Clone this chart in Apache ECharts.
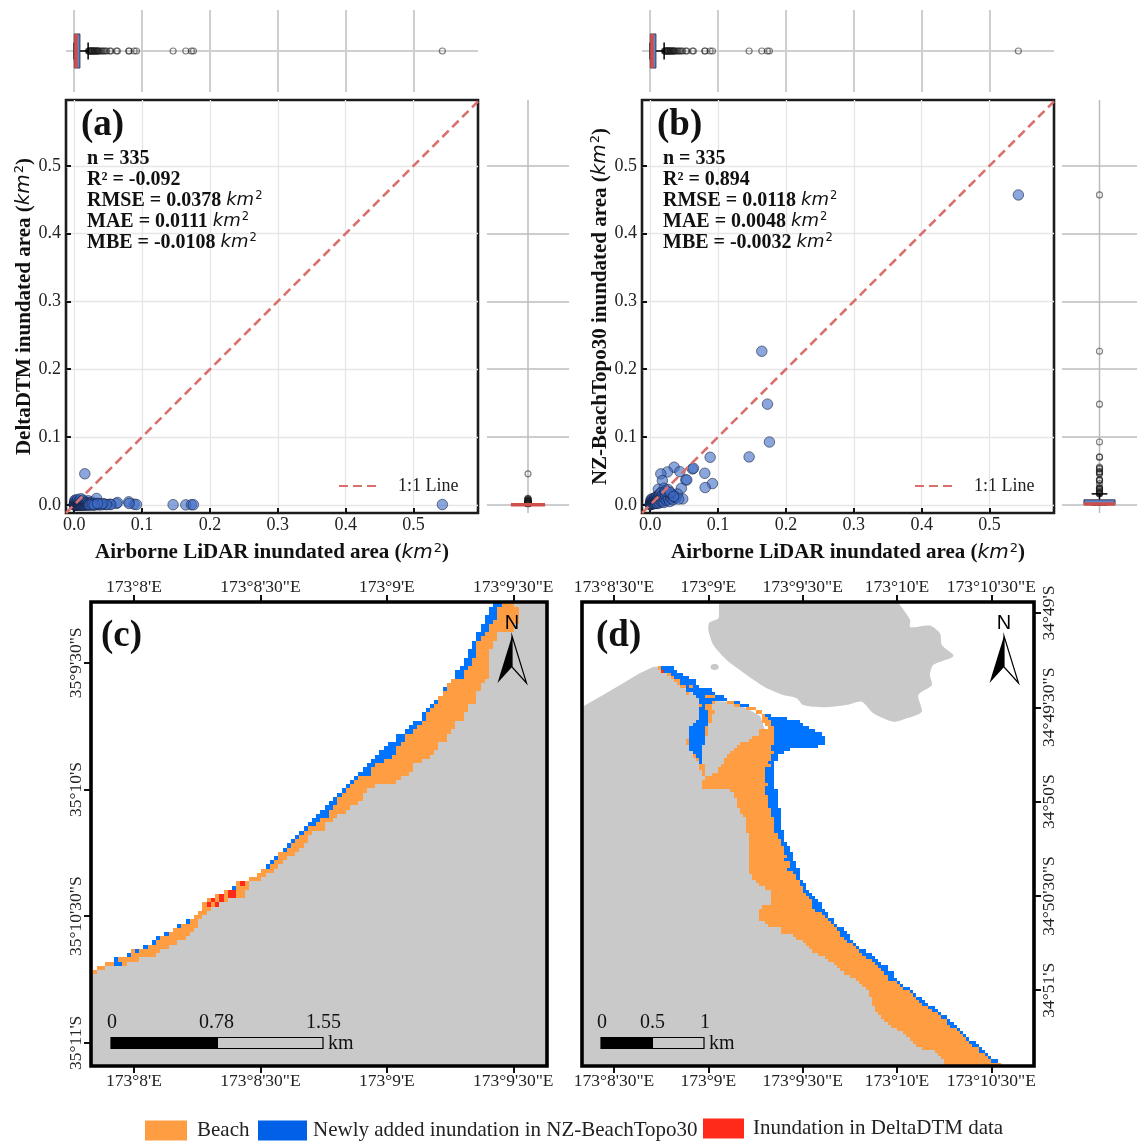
<!DOCTYPE html>
<html><head><meta charset="utf-8">
<style>html,body{margin:0;padding:0;background:#fff}#c{width:1137px;height:1142px}</style>
<script src="https://cdn.jsdelivr.net/npm/echarts@6/dist/echarts.min.js"></script>
</head><body><div id="c"></div>
<script>
// ---------- scatter data: inundated area, km2 ----------
const lidarArea = [
 .5425,.1645,.1728,.1757,.1458,.0884,.0805,.0918,.081,.0353,.0255,.0157,.0437,.0623,.0638,.018,.0525,.054,.046,.048,.012,.0206,
 .0002,.0003,.0005,.0006,.0008,.001,.001,.0012,.0015,.0015,
 .002,.002,.0025,.003,.003,.0035,.004,.004,.0045,.005,
 .005,.0055,.006,.006,.0065,.007,.007,.0075,.008,.008,
 .0085,.009,.009,.0095,.01,.01,.0105,.011,.011,.0115,
 .012,.0125,.013,.013,.0135,.014,.0145,.015,.0155,.016,
 .0165,.017,.0175,.018,.0185,.019,.02,.0205,.021,.022,
 .023,.024,.025,.026,.027,.028,.029,.03,.031,.032,
 .033,.034,.036,.038,.04,.042,.0225,.0265,.0295,.0345];
const deltaArea = [
 .0005,0,.0003,.0002,.0003,.001,.0045,.0005,.002,.0015,.0035,.0458,.001,.002,.0035,.002,.001,.0005,.0008,.0003,.004,.006,
 0,.001,0,.003,0,0,.006,.001,0,.007,
 0,.004,0,.001,0,.005,0,.002,0,.008,
 0,.001,0,.004,0,.002,0,.006,0,.001,
 0,.003,0,.001,0,.009,0,.002,0,.005,
 0,.002,0,.007,0,.001,0,.003,0,.004,
 0,.002,0,.001,0,.003,0,.001,0,.002,
 0,.001,0,.004,0,.001,0,.002,0,.001,
 .0095,.002,0,.001,0,.002,0,.001,0,.002];
const beachTopoArea = [
 .457,.2265,.1485,.0927,.0707,.0702,.0466,.0314,.0255,.0555,.0486,.0457,.049,.053,.054,.0358,.0368,.0368,.0245,.0088,.023,.0245,
 .0002,.001,.0015,.0005,.003,.001,.004,.006,.002,.008,
 .001,.005,.003,.002,.009,.004,.0015,.007,.0035,.003,
 .0065,.005,.002,.008,.004,.003,.0105,.006,.002,.0085,
 .005,.003,.011,.007,.004,.0125,.008,.002,.0095,.006,
 .0105,.005,.014,.008,.003,.012,.0165,.0065,.011,.018,
 .009,.013,.0045,.011,.0155,.007,.012,.0035,.0165,.009,
 .014,.0065,.0195,.011,.008,.0175,.005,.013,.0095,.015,
 .0155,.0075,.012,.0105,.016,.0085,.0205,.0225,.0185,.0125];
// box statistics [low whisker, q1, median, q3, high whisker]
const lidarBox = [0,.0002,.0028,.0085,.0206];
const deltaBox = [0,0,0,.0004,.001];
const beachBox = [0,.0004,.0012,.0074,.0162];
const areaTicks = [0,.1,.2,.3,.4,.5];

// ---------- panel (c) raster: columns = arc-seconds east of 173°8', rows = arc-seconds south ----------
const cLonTicks=[0,30,60,90], cLonLabels=["173°8'E","173°8'30\"E","173°9'E","173°9'30\"E"];
const cLatTicks=[0,30,60,90], cLatLabels=["35°9'30\"S","35°10'S","35°10'30\"S","35°11'S"];
// one row per arc-second from the top: [first inundated col, first beach col, first land col]
const cRows=[[85,87,90],[84,86,91],[84,86,91],[83,86,91],[83,85,91],[82,84,90],[82,84,90],[81,83,86],[81,82,86],[80,81,85],
[80,81,85],[79,81,84],[79,81,84],[78,80,84],[78,80,84],[77,79,84],[76,78,84],[76,78,84],[75,75,83],[74,74,82],
[73,74,82],[73,73,81],[72,72,81],[71,72,81],[70,71,79],[69,70,79],[68,69,78],[68,69,78],[66,68,76],[65,67,76],
[64,66,75],[62,64,74],[62,64,74],[60,63,72],[59,62,72],[58,62,71],[57,61,70],[56,59,68],[55,57,66],[54,56,66],
[53,56,65],[52,53,63],[51,52,62],[50,51,57],[49,50,55],[48,49,54],[47,48,54],[46,48,53],[45,47,51],[44,46,50],
[43,46,48],[42,44,47],[41,43,45],[40,41,45],[39,40,42],[38,39,41],[37,38,41],[36,37,40],[35,36,39],[34,34,38],
[33,34,36],[32,33,35],[31,32,34],[30,30,33],[29,29,31],[27,27,30],[24,24,27],[23,24,27],[21,21,26],[19,19,26],
[17,17,22],[16,16,20],[16,16,18],[15,15,17],[14,14,16],[12,13,15],[10,11,15],[9,9,14],[7,8,13],[5,6,12],
[4,5,10],[2,3,8],[-1,-1,6],[-2,-1,5],[-5,-4,1],[-7,-7,-2],[-9,-9,-7],[-10,-10,-9]];
const cExtraBlue=[[82,0,1],[85,-5,-3]];            // [row, col0, col1]
const cRed=[[66,25,26],[68,22,24],[69,22,24],[69,20,21],[70,18,19],[70,20,21],[71,17,18],[71,19,20]];
const cLandBelow=[[-10.2,73.5],[98,73.5],[98,95.5],[-10.2,95.5]];

// ---------- panel (d): columns = arc-seconds east of 173°8'30", rows = arc-seconds south of 34°49' ----------
const dLonTicks=[0,30,60,90,120], dLonLabels=["173°8'30\"E","173°9'E","173°9'30\"E","173°10'E","173°10'30\"E"];
const dLatTicks=[0,30,60,90,120], dLatLabels=["34°49'S","34°49'30\"S","34°50'S","34°50'30\"S","34°51'S"];
const dIsland=[[34,-3.5],[33.2,1.7],[30.3,3.1],[30,5.4],[31.6,10.2],[35.9,15],[42.2,19.7],[48,23.6],[53.9,26.1],[58.1,27.1],[60.2,29.3],[66.6,30],[74,29.3],[78.8,28.2],[82.5,31.9],[88.9,34.6],[93.1,33.5],[97.9,31.4],[96.8,26.1],[101.1,22.9],[100.5,19.7],[101.6,16.5],[108,13.7],[104.3,10.2],[103.7,6.5],[100.5,4],[94.2,4.5],[94.2,2.2],[91,-2.5],[89.9,-3.5]];
const dIslet=[[31.2,16.4],[32.8,16.4],[33.3,17.2],[32.8,18],[31.2,18],[30.7,17.2]];
const dLand=[[-10.2,29.9],[-3.5,26.1],[1.9,22.9],[8.3,19.1],[12.4,17.2],[14.6,16.9],[16.8,19.2],[22,23.4],[26.8,26.6],[31.5,28],[38.5,28.3],[46.5,32.8],[48,37.2],[43,53.5],[-10.2,53.5]];
// upper rows: [row from 17" south, col0, col1]
const dUpperBlue=[[0,15,19],[1,15,20],[2,18,22],[3,19,24],[4,21,26],[5,21,26],[6,23,24],[6,25,27],[7,23,31],[8,25,32],[9,26,29],[9,32,35],[10,27,36],[11,27,31],[11,38,40],[12,28,29],[12,40,43],[13,27,29],[14,27,30],[15,27,30],[15,48,50],[16,27,30],[16,49,55],[17,26,30],[17,50,59],[18,25,30],[18,50,60],[19,24,29],[19,51,62],[20,24,29],[20,51,64],[21,24,29],[21,51,66],[22,24,29],[22,51,67],[23,24,29],[23,51,67],[24,24,29],[24,51,67],[25,24,28],[25,50,65],[26,24,28],[26,50,56],[27,25,28],[27,51,54],[28,26,28],[28,50,52],[29,27,28],[29,50,52],[30,27,28],[30,49,51],[31,50,51],[32,48,51],[33,48,51],[34,48,51],[35,48,51]];
const dUpperBeach=[[0,14,15],[2,17,18],[3,18,19],[4,19,21],[5,20,21],[6,21,23],[6,24,25],[8,23,24],[9,29,32],[11,31,32],[11,36,38],[12,27,28],[12,29,31],[12,38,40],[13,29,31],[13,42,45],[14,30,32],[14,45,47],[15,30,31],[15,47,48],[16,30,31],[16,47,49],[17,30,31],[17,47,50],[18,48,50],[19,29,30],[19,49,51],[20,29,30],[20,46,51],[21,29,30],[21,46,51],[22,44,51],[23,23,24],[23,43,51],[24,23,24],[24,40,51],[25,39,50],[26,38,50],[27,37,51],[28,25,26],[28,36,50],[29,26,27],[29,35,50],[30,35,49],[31,27,29],[31,34,50],[32,27,29],[32,33,48],[33,28,29],[33,33,48],[34,28,29],[34,31,48],[35,29,48]];
const dRed=[[1,15,16]];
// lower rows, first row 36: [first beach col, first inundated col, last col]
const dLowerRows=[[28,48,51],[28,49,51],[28,48,51],[37,48,52],[38,48,52],[38,49,52],[39,49,52],[39,49,52],[39,49,52],[40,50,53],
[40,50,53],[41,50,53],[42,51,53],[42,51,53],[42,51,53],[42,51,53],[42,51,54],[43,52,54],[43,52,54],[43,53,54],
[43,53,55],[43,54,56],[43,54,56],[43,54,57],[43,55,57],[43,54,57],[43,56,58],[43,56,58],[43,55,59],[43,57,59],
[44,58,59],[44,58,59],[45,59,60],[46,59,61],[48,60,61],[50,60,62],[50,61,63],[50,62,64],[50,63,65],[50,63,66],
[47,63,66],[46,64,67],[46,66,68],[46,67,68],[46,68,70],[48,69,70],[49,70,71],[53,71,73],[53,72,74],[57,72,75],
[58,73,75],[60,74,76],[61,76,77],[62,77,78],[63,78,80],[65,79,82],[67,80,83],[68,82,84],[70,83,85],[71,84,87],
[72,85,87],[73,86,89],[75,87,89],[77,87,90],[78,90,91],[79,91,92],[80,92,94],[81,94,95],[81,95,96],[82,96,98],
[82,97,99],[82,98,100],[83,100,102],[83,101,103],[84,103,104],[85,104,106],[86,106,107],[87,106,108],[88,107,109],[90,109,110],
[92,110,111],[93,111,112],[94,112,113],[95,113,115],[96,114,116],[98,116,117],[102,116,118],[103,118,119],[104,119,120],[105,120,122],[105,123,123]];

const names={beach:'Beach',blue:'Newly added inundation in NZ-BeachTopo30',red:'Inundation in DeltaDTM data'};
const colors={beach:'#FF9D42',blue:'#0073FF',red:'#FF2A1A',land:'#C9C9C9'};

// ---------- build cell rectangles [x0,y0,x1,y1] in axis units ----------
const CX=0.24, CY=-14.24, CR=98;
function cCells(){
  const out={land:[],beach:[],blue:[],red:[]};
  cRows.forEach((r,i)=>{const y=CY+i;
    out.land.push([r[2]+CX,y,CR,y+1]);
    if(r[1]<r[2])out.beach.push([r[1]+CX,y,r[2]+CX,y+1]);
    if(r[0]<r[1])out.blue.push([r[0]+CX,y,r[1]+CX,y+1]);});
  cExtraBlue.forEach(e=>out.blue.push([e[1]+CX,CY+e[0],e[2]+CX,CY+e[0]+1]));
  cRed.forEach(e=>out.red.push([e[1]+CX,CY+e[0],e[2]+CX,CY+e[0]+1]));
  return out;
}
const DY=17, DL=-10.2;
function dCells(){
  const out={land:[],beach:[],blue:[],red:[]};
  const m=e=>[e[1],DY+e[0],e[2],DY+e[0]+1];
  dUpperBlue.forEach(e=>out.blue.push(m(e)));
  dUpperBeach.forEach(e=>out.beach.push(m(e)));
  dRed.forEach(e=>out.red.push(m(e)));
  dLowerRows.forEach((r,i)=>{const y=DY+36+i;
    out.land.push([DL,y,r[0],y+1]);
    out.beach.push([r[0],y,r[1],y+1]);
    if(r[1]<r[2])out.blue.push([r[1],y,r[2],y+1]);});
  return out;
}
function renderCell(p,api){
  const a=api.coord([api.value(0),api.value(1)]), b=api.coord([api.value(2),api.value(3)]);
  const x0=Math.round(Math.min(a[0],b[0])),x1=Math.round(Math.max(a[0],b[0]));
  const y0=Math.round(Math.min(a[1],b[1])),y1=Math.round(Math.max(a[1],b[1]));
  return {type:'rect',shape:{x:x0,y:y0,width:x1-x0,height:y1-y0},style:{fill:api.visual('color')}};
}
function cellSeries(name,color,data,x,y,z){
  return {type:'custom',name,coordinateSystem:'cartesian2d',xAxisIndex:x,yAxisIndex:y,data,renderItem:renderCell,clip:true,silent:true,
    encode:{x:[0,2],y:[1,3]},itemStyle:{color},z};
}
function polySeries(polys,x,y,smooth){
  return {type:'custom',name:'Land',coordinateSystem:'cartesian2d',xAxisIndex:x,yAxisIndex:y,clip:true,silent:true,z:1,
    data:polys.map((p,i)=>[p[0][0],p[0][1],i]),encode:{x:0,y:1},itemStyle:{color:colors.land},
    renderItem:(prm,api)=>({type:'polygon',shape:{points:polys[prm.dataIndex].map(v=>api.coord(v)),smooth:smooth&&smooth[prm.dataIndex]||0},style:{fill:colors.land}})};
}
// ---------- marginal box: horizontal when hor is true ----------
function boxSeries(stats,vals,hor,x,y){
  const P=(v,c)=>hor?[v,c]:[c,v];
  return [{type:'custom',name:'box',coordinateSystem:'cartesian2d',xAxisIndex:x,yAxisIndex:y,silent:true,z:4,
    data:[stats],encode:hor?{x:[0,1,2,3,4]}:{y:[0,1,2,3,4]},
    renderItem:(prm,api)=>{
      const v=[0,1,2,3,4].map(i=>api.value(i));
      const pt=(a,c)=>api.coord(P(a,c));
      const line=(a,b,w,col)=>({type:'line',shape:{x1:a[0],y1:a[1],x2:b[0],y2:b[1]},style:{stroke:col,lineWidth:w},z2:5});
      const B=0.415,C=0.21;
      const c1=pt(v[1],-B),c2=pt(v[3],B);
      return {type:'group',children:[
        line(pt(v[0],0),pt(v[1],0),1.5,'#000'),line(pt(v[3],0),pt(v[4],0),1.5,'#000'),
        line(pt(v[0],-C),pt(v[0],C),1.5,'#000'),line(pt(v[4],-C),pt(v[4],C),1.5,'#000'),
        {type:'rect',shape:{x:Math.min(c1[0],c2[0]),y:Math.min(c1[1],c2[1]),width:Math.abs(c2[0]-c1[0]),height:Math.abs(c2[1]-c1[1])},
          style:{fill:'#5F86D3',stroke:'#3a3a4a',lineWidth:1},z2:6},
        Object.assign(line(pt(v[2],-B),pt(v[2],B),3.5,'#CE4F4B'),{z2:7})]};
    }},
   {type:'scatter',name:'outliers',xAxisIndex:x,yAxisIndex:y,silent:true,symbolSize:6,z:3,
    data:vals.filter(v=>v>stats[4]).map(v=>P(v,0)),
    itemStyle:{color:'rgba(255,255,255,0)',borderColor:'rgba(30,30,30,0.7)',borderWidth:1.2}}];
}
const SERIF="'Liberation Serif','Times New Roman',serif";
const MATH="'DejaVu Sans',sans-serif";
const titleRich={
  b:{fontFamily:SERIF,fontWeight:'bold',fontSize:21,color:'#111'},
  i:{fontFamily:MATH,fontStyle:'italic',fontWeight:'normal',fontSize:20,color:'#111'},
  s:{fontFamily:MATH,fontWeight:'normal',fontSize:13,color:'#111',verticalAlign:'top',padding:[0,0,8,1]}};
const axName=t=>`{b|${t} (}{i|km}{s|2}{b|)}`;
const mainX={type:'value',min:-0.012,max:0.595,axisLabel:{customValues:areaTicks,fontFamily:SERIF,fontSize:18,color:'#222',margin:3,formatter:v=>v.toFixed(1)},
  axisTick:{customValues:areaTicks,inside:true,length:5,lineStyle:{color:'#111',width:2}},axisLine:{show:false,onZero:false},splitLine:{show:true,lineStyle:{color:'#E6E6E6',width:1.3}},
  nameLocation:'middle',nameGap:29,nameTextStyle:{rich:titleRich}};
const mainY={type:'value',min:-0.012,max:0.597,axisLabel:{customValues:areaTicks,fontFamily:SERIF,fontSize:18,color:'#222',margin:5,formatter:v=>v.toFixed(1)},
  axisTick:{customValues:areaTicks,inside:true,length:5,lineStyle:{color:'#111',width:2}},axisLine:{show:false,onZero:false},splitLine:{show:true,lineStyle:{color:'#E6E6E6',width:1.3}},
  nameLocation:'middle',nameTextStyle:{rich:titleRich}};
const topX={type:'value',min:-0.012,max:0.595,axisLabel:{show:false,customValues:areaTicks},axisTick:{show:false,customValues:areaTicks},axisLine:{show:false,onZero:false},splitLine:{show:true,lineStyle:{color:'#BDBDBD',width:1.5}}};
const crossHidden={type:'value',min:-1,max:1,show:false,splitLine:{show:false}};
const sideY={type:'value',min:-0.012,max:0.597,axisLabel:{show:false,customValues:areaTicks},axisTick:{show:false,customValues:areaTicks},axisLine:{show:false,onZero:false},splitLine:{show:true,lineStyle:{color:'#BDBDBD',width:1.5}}};

const grids=[
 {left:66,top:100,width:412,height:413},{left:66,top:10,width:412,height:82},{left:487,top:100,width:82,height:413},
 {left:642,top:100,width:412,height:413},{left:642,top:10,width:412,height:82},{left:1062,top:100,width:82,height:413},
 {left:91,top:602,width:456,height:464},{left:582,top:602,width:452,height:464}];
grids.forEach((g,i)=>{g.show=i===0||i===3;g.borderColor='#1c1c1c';g.borderWidth=2.6;});

const mapLabel={fontFamily:SERIF,fontSize:17.5,color:'#222',margin:6};
const mapTick={length:7,lineStyle:{color:'#111',width:2}};
function mapX(i,pos,min,max,ticks,labels){
  return {type:'value',gridIndex:i,position:pos,min,max,axisLine:{show:false,onZero:false},splitLine:{show:false},
    axisTick:Object.assign({customValues:ticks},mapTick),
    axisLabel:Object.assign({customValues:ticks,formatter:v=>labels[ticks.indexOf(v)]},mapLabel)};
}
function mapY(i,pos,min,max,ticks,labels){
  return {type:'value',gridIndex:i,position:pos,inverse:true,min,max,axisLine:{show:false,onZero:false},splitLine:{show:false},
    axisTick:Object.assign({customValues:ticks},mapTick),
    axisLabel:Object.assign({customValues:ticks,rotate:90,formatter:v=>labels[ticks.indexOf(v)]},mapLabel)};
}
const xAxis=[
 Object.assign({},mainX,{gridIndex:0,name:axName('Airborne LiDAR inundated area')}),
 Object.assign({},topX,{gridIndex:1}),
 Object.assign({},crossHidden,{gridIndex:2}),
 Object.assign({},mainX,{gridIndex:3,name:axName('Airborne LiDAR inundated area')}),
 Object.assign({},topX,{gridIndex:4}),
 Object.assign({},crossHidden,{gridIndex:5}),
 mapX(6,'top',-10.2,98,cLonTicks,cLonLabels), mapX(6,'bottom',-10.2,98,cLonTicks,cLonLabels),
 mapX(7,'top',-10.2,133.6,dLonTicks,dLonLabels), mapX(7,'bottom',-10.2,133.6,dLonTicks,dLonLabels)];
const yAxis=[
 Object.assign({},mainY,{gridIndex:0,name:axName('DeltaDTM inundated area'),nameGap:31}),
 Object.assign({},crossHidden,{gridIndex:1}),
 Object.assign({},sideY,{gridIndex:2}),
 Object.assign({},mainY,{gridIndex:3,name:axName('NZ-BeachTopo30 inundated area'),nameGap:31}),
 Object.assign({},crossHidden,{gridIndex:4}),
 Object.assign({},sideY,{gridIndex:5}),
 mapY(6,'left',-14.4,95.5,cLatTicks,cLatLabels),
 mapY(7,'right',-3.5,144.1,dLatTicks,dLatLabels)];

const pairs=(a,b)=>a.map((v,i)=>[v,b[i]]);
const scatterStyle={color:'rgba(60,107,198,0.75)',borderColor:'rgba(20,30,60,0.8)',borderWidth:0.9};
function panelSeries(x0,yVals,yBox){
  const s=[
   {type:'scatter',name:'points',xAxisIndex:x0,yAxisIndex:x0,data:pairs(lidarArea,yVals),symbolSize:10.5,itemStyle:scatterStyle,silent:true,z:3},
   {type:'line',name:'1:1 Line',xAxisIndex:x0,yAxisIndex:x0,data:[[-0.012,-0.012],[0.595,0.595]],symbol:'none',silent:true,z:4,
     lineStyle:{color:'#D9706B',width:2.6,type:[9,5]},itemStyle:{color:'#D9706B'}},
   {type:'line',name:'midline',xAxisIndex:x0+1,yAxisIndex:x0+1,data:[[-0.012,0],[0.595,0]],symbol:'none',silent:true,z:2,lineStyle:{color:'#CFCFCF',width:2}},
   {type:'line',name:'midline',xAxisIndex:x0+2,yAxisIndex:x0+2,data:[[0,-0.012],[0,0.597]],symbol:'none',silent:true,z:2,lineStyle:{color:'#BDBDBD',width:1.5}}];
  return s.concat(boxSeries(lidarBox,lidarArea,true,x0+1,x0+1),boxSeries(yBox,yVals,false,x0+2,x0+2));
}
const cc=cCells(), dc=dCells();
const series=[].concat(
 panelSeries(0,deltaArea,deltaBox),
 panelSeries(3,beachTopoArea,beachBox),
 [polySeries([cLandBelow],6,6),
  cellSeries('Land',colors.land,cc.land,6,6,1),
  cellSeries(names.beach,colors.beach,cc.beach,6,6,2),
  cellSeries(names.blue,colors.blue,cc.blue,6,6,3),
  cellSeries(names.red,colors.red,cc.red,6,6,4),
  polySeries([dIsland,dIslet,dLand],8,7,[0.25,0.4,0]),
  cellSeries('Land',colors.land,dc.land,8,7,1),
  cellSeries(names.beach,colors.beach,dc.beach,8,7,2),
  cellSeries(names.blue,colors.blue,dc.blue,8,7,3),
  cellSeries(names.red,colors.red,dc.red,8,7,4)]);

const statRich={
  b:{fontFamily:SERIF,fontWeight:'bold',fontSize:20,color:'#111',lineHeight:21},
  i:{fontFamily:MATH,fontStyle:'italic',fontWeight:'normal',fontSize:18,color:'#111',lineHeight:21},
  s:{fontFamily:MATH,fontWeight:'normal',fontSize:11.5,color:'#111',verticalAlign:'top',lineHeight:21,padding:[0,0,6,1]}};
const statLine=(t,u)=>u?`{b|${t} }{i|km}{s|2}`:`{b|${t}}`;
function statText(n,r2,rmse,mae,mbe){
  return [statLine('n = '+n),statLine('R² = '+r2),statLine('RMSE = '+rmse,1),statLine('MAE = '+mae,1),statLine('MBE = '+mbe,1)].join('\n');
}
const plain=(text,left,top,size,extra)=>({text,left,top,textStyle:Object.assign({fontFamily:SERIF,fontSize:size,color:'#111',fontWeight:'normal'},extra||{})});
const boldL={fontWeight:'bold'};
const title=[
 plain('(a)',76,102,37,boldL),plain('(b)',652,102,37,boldL),plain('(c)',96,613,37,boldL),plain('(d)',591,613,37,boldL),
 {text:statText(335,'-0.092','0.0378','0.0111','-0.0108'),left:82,top:143,textStyle:{rich:statRich}},
 {text:statText(335,'0.894','0.0118','0.0048','-0.0032'),left:658,top:143,textStyle:{rich:statRich}},
 plain('0',102,1008,20),plain('0.78',194,1008,20),plain('1.55',301,1008,20),plain('km',323,1029,20),
 plain('0',592,1008,20),plain('0.5',635,1008,20),plain('1',695,1008,20),plain('km',704,1029,20)];

function northArrow(cx){
  return [
   {type:'polygon',shape:{points:[[cx,636],[cx-14.5,683],[cx,667]]},style:{fill:'#000'},z:50},
   {type:'polygon',shape:{points:[[cx,636],[cx+14.5,683],[cx,667]]},style:{fill:'rgba(255,255,255,0)',stroke:'#000',lineWidth:1.2},z:50},
   {type:'text',x:cx,y:623,style:{text:'N',font:"20px 'Liberation Sans',sans-serif",fill:'#000',textAlign:'center',textVerticalAlign:'middle'},z:50}];
}
function scaleBar(x0,xm,x1){
  return [
   {type:'rect',shape:{x:x0,y:1037.5,width:x1-x0,height:11},style:{fill:'#C9C9C9',stroke:'#000',lineWidth:1.2},z:50},
   {type:'rect',shape:{x:x0,y:1037.5,width:xm-x0,height:11},style:{fill:'#000'},z:51}];
}
const graphic=[
  {type:'rect',shape:{x:91,y:602,width:456,height:464},style:{fill:'rgba(0,0,0,0)',stroke:'#000',lineWidth:3.6},z:60},
  {type:'rect',shape:{x:582,y:602,width:452,height:464},style:{fill:'rgba(0,0,0,0)',stroke:'#000',lineWidth:3.6},z:60}
 ].concat(northArrow(512),northArrow(1004),scaleBar(111,218,323),scaleBar(601,653,704));

const legendText={fontFamily:SERIF,fontSize:18,color:'#222'};
const bottomText={fontFamily:SERIF,fontSize:21,color:'#222'};
const lineLegend=left=>({left,top:472,data:['1:1 Line'],itemWidth:42,itemHeight:14,itemStyle:{opacity:0},
  textStyle:Object.assign({},legendText,{padding:[0,0,0,12]})});
const legend=[
 lineLegend(333),lineLegend(909),
 {left:140,top:1115,itemWidth:42,itemHeight:20,icon:'rect',textStyle:Object.assign({},bottomText,{padding:[0,0,0,5]}),
  data:[{name:names.beach,itemStyle:{color:'#FF9D42'}}]},
 {left:253,top:1115,itemWidth:49,itemHeight:20,icon:'rect',textStyle:Object.assign({},bottomText,{padding:[0,0,0,1]}),
  data:[{name:names.blue,itemStyle:{color:'#0060E8'}}]},
 {left:698,top:1113,itemWidth:41,itemHeight:20,icon:'rect',textStyle:Object.assign({},bottomText,{padding:[0,0,0,4]}),
  data:[{name:names.red,itemStyle:{color:'#FF2A1A'}}]}];

const chart=echarts.init(document.getElementById('c'),null,{renderer:'canvas'});
chart.setOption({animation:false,backgroundColor:'#fff',grid:grids,xAxis,yAxis,series,title,legend,graphic,tooltip:{show:false}});
</script></body></html>
